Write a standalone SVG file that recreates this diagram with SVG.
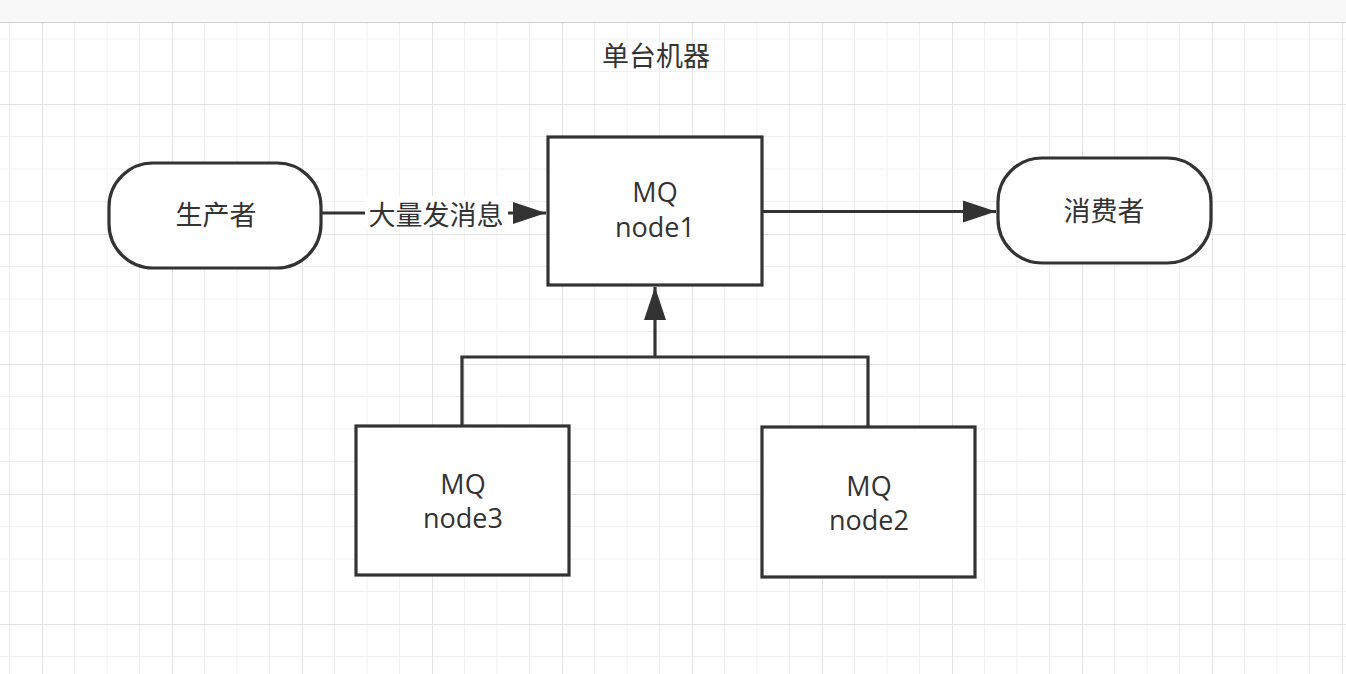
<svg xmlns="http://www.w3.org/2000/svg" width="1346" height="674" viewBox="0 0 1346 674">
<style>
.box{fill:#ffffff;stroke:#333333;stroke-width:3.2}
.edge{fill:none;stroke:#333333;stroke-width:3.2}
.t{font-family:"Open Sans","Noto Sans CJK SC",sans-serif;font-size:27px;fill:#333333;text-anchor:middle}
.c{font-family:"Noto Sans CJK SC",sans-serif;font-size:27px;fill:#333333;text-anchor:middle}
</style>
<defs>
<pattern id="grid" patternUnits="userSpaceOnUse" x="-88" y="-26" width="130" height="130">
<path d="M32.5 0V130M65 0V130M97.5 0V130M0 32.5H130M0 65H130M0 97.5H130" stroke="#f0f0f0" stroke-width="1" fill="none"/>
<path d="M0.5 0V130M0 0.5H130" stroke="#e3e3e3" stroke-width="1" fill="none"/>
</pattern>
<marker id="arrow" markerUnits="userSpaceOnUse" markerWidth="34" markerHeight="24" refX="33" refY="12" orient="auto">
<path d="M0 1L33 12L0 23Z" fill="#333333"/>
</marker>
</defs>
<rect x="0" y="0" width="1346" height="674" fill="#ffffff"/>
<rect x="0" y="22" width="1346" height="652" fill="url(#grid)"/>
<rect x="0" y="0" width="1346" height="22" fill="#f8f8f8"/>
<line x1="0" y1="22.5" x2="1346" y2="22.5" stroke="#d0d0d0" stroke-width="1"/>

<text class="c" x="656" y="66">单台机器</text>

<g id="connectors">
<path class="edge" d="M322 213H546" marker-end="url(#arrow)"/>
<rect x="365" y="196" width="143" height="34" fill="#ffffff"/>
<text class="c" x="436" y="225">大量发消息</text>
<path class="edge" d="M762 211.5H996" marker-end="url(#arrow)"/>
<path class="edge" d="M462 426V357H868V427"/>
<path class="edge" d="M655 357V287" marker-end="url(#arrow)"/>
</g>

<g id="producer">
<rect class="box" x="109" y="163" width="212" height="105" rx="44" ry="44"/>
<text class="c" x="216" y="225">生产者</text>
</g>

<g id="node1">
<rect class="box" x="548" y="137" width="214" height="148"/>
<text class="t" x="655" y="202">MQ</text>
<text class="t" x="655" y="237">node1</text>
</g>

<g id="consumer">
<rect class="box" x="998" y="158" width="213" height="105" rx="44" ry="44"/>
<text class="c" x="1104" y="221">消费者</text>
</g>

<g id="node3">
<rect class="box" x="356" y="426" width="213" height="149"/>
<text class="t" x="463" y="494">MQ</text>
<text class="t" x="463" y="528">node3</text>
</g>

<g id="node2">
<rect class="box" x="762" y="427" width="213" height="150"/>
<text class="t" x="869" y="496">MQ</text>
<text class="t" x="869" y="530">node2</text>
</g>
</svg>
